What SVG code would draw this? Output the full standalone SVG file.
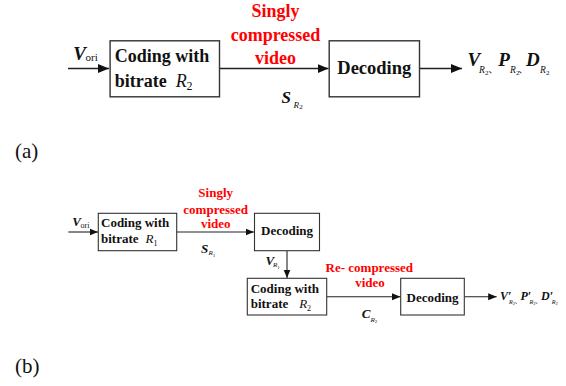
<svg xmlns="http://www.w3.org/2000/svg" width="566" height="386" viewBox="0 0 566 386" font-family="'Liberation Serif', serif">
<defs>
<style>
.box{fill:#fff;stroke:#333;stroke-width:1.4}
.boxb{fill:#fff;stroke:#333;stroke-width:1.1}
.ln{stroke:#222;stroke-width:1.5;fill:none}
.lnb{stroke:#222;stroke-width:1.1;fill:none}
text{fill:#111}
.bt{font-weight:bold}
.red{font-weight:bold;fill:#ff0000;text-anchor:middle}
.vi{font-weight:bold;font-style:italic}
.it{font-style:italic;font-weight:normal}
.up{font-style:normal;font-weight:normal}
</style>
<marker id="ah" markerUnits="userSpaceOnUse" markerWidth="12" markerHeight="10" refX="11" refY="5" orient="auto"><path d="M0,0.5 L11,5 L0,9.5 Z" fill="#111"/></marker>
<marker id="ahb" markerUnits="userSpaceOnUse" markerWidth="9" markerHeight="8" refX="8.5" refY="4" orient="auto"><path d="M0,0.5 L8.5,4 L0,7.5 Z" fill="#111"/></marker>
</defs>
<g id="connectors">
<line class="ln" x1="68" y1="68.6" x2="109" y2="68.6" marker-end="url(#ah)"/>
<line class="ln" x1="219.5" y1="68.6" x2="328.5" y2="68.6" marker-end="url(#ah)"/>
<line class="ln" x1="419.5" y1="68.6" x2="462" y2="68.6" marker-end="url(#ah)"/>
<line class="lnb" x1="68.3" y1="232" x2="98" y2="232" marker-end="url(#ahb)"/>
<line class="lnb" x1="176.7" y1="232" x2="254" y2="232" marker-end="url(#ahb)"/>
<line class="lnb" x1="287" y1="250.7" x2="287" y2="278" marker-end="url(#ahb)"/>
<line class="lnb" x1="326.7" y1="296.7" x2="400.5" y2="296.7" marker-end="url(#ahb)"/>
<line class="lnb" x1="464.3" y1="296.7" x2="496.7" y2="296.7" marker-end="url(#ahb)"/>
</g>
<g id="a-input">
<text x="73.3" y="59.5" class="vi" font-size="19">V<tspan class="up" x="85.5" y="61" font-size="11">ori</tspan></text>
</g>
<g id="a-coding">
<rect class="box" x="110.1" y="40.8" width="109.4" height="56"/>
<text x="114.8" y="62.1" class="bt" font-size="18">Coding with</text>
<text x="114.8" y="86.6" class="bt" font-size="18">bitrate<tspan class="it" x="175.8">R</tspan><tspan class="up" x="186.6" y="89.5" font-size="12">2</tspan></text>
</g>
<g id="a-label">
<text x="275.5" y="17" class="red" font-size="18">Singly</text>
<text x="275.5" y="40.8" class="red" font-size="18">compressed</text>
<text x="275.5" y="64.3" class="red" font-size="18">video</text>
<text x="281.6" y="102.5" class="vi" font-size="17">S<tspan class="it" x="293.5" y="107.5" font-size="9">R</tspan><tspan class="up" x="299.3" y="109" font-size="7">2</tspan></text>
</g>
<g id="a-decoding">
<rect class="box" x="329.2" y="40.8" width="90.3" height="56"/>
<text x="374.3" y="74" class="bt" font-size="18.5" text-anchor="middle">Decoding</text>
</g>
<g id="a-output">
<text x="467.5" y="65.5" class="vi" font-size="19">V<tspan class="it" x="479" y="73" font-size="9.5">R</tspan><tspan class="up" x="485" y="74.5" font-size="7">2</tspan><tspan class="up" x="488.5" y="73" font-size="9" font-family="'Liberation Serif','Noto Sans CJK SC',serif">、</tspan><tspan x="498.3" y="65.5">P</tspan><tspan class="it" x="510" y="73" font-size="9.5">R</tspan><tspan class="up" x="516" y="74.5" font-size="7">2</tspan><tspan class="up" x="518.5" y="73" font-size="9" font-family="'Liberation Serif','Noto Sans CJK SC',serif">、</tspan><tspan x="526" y="65.5">D</tspan><tspan class="it" x="540" y="73" font-size="9.5">R</tspan><tspan class="up" x="546" y="74.5" font-size="7">2</tspan></text>
</g>
<text x="15" y="158.3" font-size="21">(a)</text>
<g id="b-input">
<text x="72.3" y="225.7" class="vi" font-size="13">V<tspan class="up" x="80.5" y="227.7" font-size="8">ori</tspan></text>
</g>
<g id="b-coding1">
<rect class="boxb" x="98.3" y="213.3" width="78.4" height="37.4"/>
<text x="101" y="227.3" class="bt" font-size="13">Coding with</text>
<text x="101" y="243.3" class="bt" font-size="13">bitrate<tspan class="it" x="145.5">R</tspan><tspan class="up" x="153.5" y="245.5" font-size="8">1</tspan></text>
</g>
<g id="b-label1">
<text x="215.7" y="197.3" class="red" font-size="13">Singly</text>
<text x="215.7" y="214.3" class="red" font-size="13">compressed</text>
<text x="215.7" y="228.3" class="red" font-size="13">video</text>
<text x="201" y="252.7" class="vi" font-size="13">S<tspan class="it" x="208.5" y="255" font-size="7">R</tspan><tspan class="up" x="212.8" y="256.5" font-size="5">1</tspan></text>
</g>
<g id="b-decoding1">
<rect class="boxb" x="254.5" y="213.3" width="65" height="37.4"/>
<text x="287" y="235" class="bt" font-size="13" text-anchor="middle">Decoding</text>
</g>
<g id="b-vr1">
<text x="265.5" y="264.5" class="vi" font-size="13">V<tspan class="it" x="273" y="267" font-size="7">R</tspan><tspan class="up" x="277.3" y="268.5" font-size="5">1</tspan></text>
</g>
<g id="b-coding2">
<rect class="boxb" x="247.3" y="278.3" width="79.4" height="36.7"/>
<text x="250.7" y="292.7" class="bt" font-size="13">Coding with</text>
<text x="250.7" y="308.3" class="bt" font-size="13">bitrate<tspan class="it" x="299.3">R</tspan><tspan class="up" x="307" y="310.5" font-size="8">2</tspan></text>
</g>
<g id="b-label2">
<text x="369.3" y="272.3" class="red" font-size="13">Re- compressed</text>
<text x="370" y="286.7" class="red" font-size="13">video</text>
<text x="361.7" y="318.3" class="vi" font-size="13">C<tspan class="it" x="370.5" y="321.5" font-size="7">R</tspan><tspan class="up" x="374.8" y="323" font-size="5">2</tspan></text>
</g>
<g id="b-decoding2">
<rect class="boxb" x="400.7" y="278.3" width="63.6" height="36.7"/>
<text x="432.5" y="301.7" class="bt" font-size="13" text-anchor="middle">Decoding</text>
</g>
<g id="b-output">
<text x="500" y="300" class="vi" font-size="12">V′<tspan class="it" x="509" y="303.5" font-size="6">R</tspan><tspan class="up" x="512.8" y="304.5" font-size="4.5">2</tspan><tspan class="up" x="514.8" y="302.5" font-size="6" font-family="'Liberation Serif','Noto Sans CJK SC',serif">、</tspan><tspan x="520.5" y="300">P′</tspan><tspan class="it" x="529.5" y="303.5" font-size="6">R</tspan><tspan class="up" x="533.3" y="304.5" font-size="4.5">2</tspan><tspan class="up" x="535.3" y="302.5" font-size="6" font-family="'Liberation Serif','Noto Sans CJK SC',serif">、</tspan><tspan x="541" y="300">D′</tspan><tspan class="it" x="551.8" y="303.5" font-size="6">R</tspan><tspan class="up" x="555.6" y="304.5" font-size="4.5">2</tspan></text>
</g>
<text x="15" y="373.3" font-size="21">(b)</text>
</svg>
